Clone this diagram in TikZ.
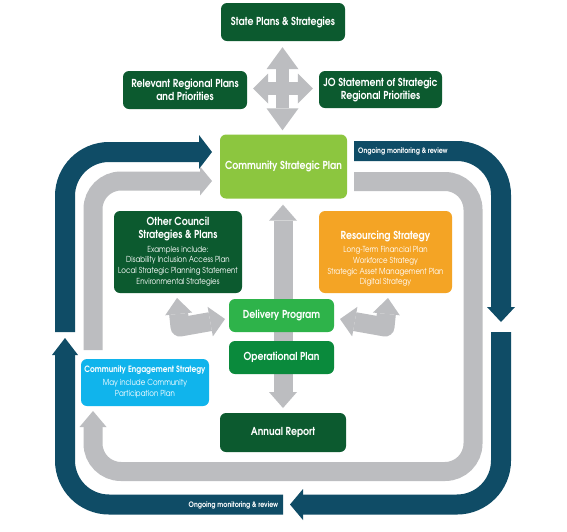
\documentclass[tikz,border=0pt]{standalone}
\usepackage{fontspec}
\setmainfont{TeX Gyre Adventor}[FakeStretch=0.85]
\usetikzlibrary{arrows.meta}
\definecolor{navy}{HTML}{0F4C66}
\definecolor{greyarr}{HTML}{BCBDC0}
\definecolor{dkgreen}{HTML}{0C5A2F}
\definecolor{ltgreen}{HTML}{8CC63F}
\definecolor{dpgreen}{HTML}{2EB34A}
\definecolor{opgreen}{HTML}{0A8A3C}
\definecolor{orangebox}{HTML}{F4A425}
\definecolor{ltblue}{HTML}{10B4EC}
\tikzset{
  box/.style={rounded corners=6pt, text=white, align=center, inner sep=0pt,
    font=\bfseries\fontsize{11}{13}\selectfont},
  titletxt/.style={text=white, align=center, inner sep=0pt,
    font=\bfseries\fontsize{11}{12.2}\selectfont},
  bodytxt/.style={text=white, align=center, inner sep=0pt,
    font=\fontsize{8.3}{10.7}\selectfont},
  loopblue/.style={draw=navy, line width=20pt, rounded corners=44pt},
  loopgrey/.style={draw=greyarr, line width=19pt, rounded corners=28pt},
  smallgrey/.style={draw=greyarr, line width=19pt, line join=round},
  montxt/.style={text=white, inner sep=0pt, font=\bfseries\fontsize{7.5}{8}\selectfont},
}
\begin{document}
\begin{tikzpicture}[x=1pt,y=-1pt]
\useasboundingbox (0,0) rectangle (567,531);
\fill[white] (0,0) rectangle (567,531);

% ---------- outer blue loop ----------
\coordinate (b1s) at (65,332);
\coordinate (b1c) at (65,152);
\coordinate (b1e) at (212,152);
\draw[loopblue, -{Triangle[width=34pt,length=13pt,line width=0pt]}] (b1s) -- (b1c) -- (b1e);
\coordinate (b2s) at (354,151);
\coordinate (b2c) at (501,151);
\coordinate (b2e) at (501,322);
\draw[loopblue, -{Triangle[width=28pt,length=15pt,line width=0pt]}] (b2s) -- (b2c) -- (b2e);
\coordinate (b3s) at (501,332);
\coordinate (b3c) at (501,504.5);
\coordinate (b3e) at (290,504.5);
\draw[loopblue, -{Triangle[width=31pt,length=13pt,line width=0pt]}] (b3s) -- (b3c) -- (b3e);
\coordinate (b4s) at (283,504.5);
\coordinate (b4c) at (65,504.5);
\coordinate (b4e) at (65,338);
\draw[loopblue, -{Triangle[width=26pt,length=17pt,line width=0pt]}] (b4s) -- (b4c) -- (b4e);

% ---------- inner grey loop ----------
\coordinate (g1s) at (93,350);
\coordinate (g1c) at (93,181);
\coordinate (g1e) at (212,181);
\draw[loopgrey, -{Triangle[width=29pt,length=12pt,line width=0pt]}] (g1s) -- (g1c) -- (g1e);
\coordinate (g2s) at (354,181.5);
\coordinate (g2a) at (473,181.5);
\coordinate (g2b) at (473,471.5);
\coordinate (g2c) at (93,471.5);
\coordinate (g2e) at (93,411);
\draw[loopgrey, -{Triangle[width=27pt,length=16pt,line width=0pt]}] (g2s) -- (g2a) -- (g2b) -- (g2c) -- (g2e);

% ---------- boxes ----------
\node[box, fill=dkgreen, minimum width=124pt, minimum height=38pt] (state) at (283,22) {State Plans \& Strategies};
\node[box, fill=dkgreen, minimum width=124pt, minimum height=38pt] (rel) at (185,90) {Relevant Regional Plans\\and Priorities};
\node[box, fill=dkgreen, minimum width=123pt, minimum height=37pt] (jo) at (380.5,89.5) {JO Statement of Strategic\\Regional Priorities};
\node[box, fill=ltgreen, minimum width=127pt, minimum height=64pt] (csp) at (283.5,166.5) {Community Strategic Plan};

% central vertical grey arrow (behind Delivery Program and Operational Plan)
\draw[draw=greyarr, line width=19pt,
  {Triangle[width=28pt,length=16pt,line width=0pt]}-{Triangle[width=28pt,length=16pt,line width=0pt]},
  shorten <=6pt, shorten >=5pt] (csp.south -| 283,0) -- (283,413);

\node[box, fill=dkgreen, minimum width=128pt, minimum height=82pt] (other) at (178,252) {};
\node[titletxt] (othert) at (178,229) {Other Council\\Strategies \& Plans};
\node[bodytxt] (otherb) at (178,266) {Examples include:\\Disability Inclusion Access Plan\\Local Strategic Planning Statement\\Environmental Strategies};

\node[box, fill=orangebox, minimum width=133pt, minimum height=82pt] (res) at (385.5,252) {};
\node[titletxt] (rest) at (385.5,236) {Resourcing Strategy};
\node[bodytxt] (resb) at (385.5,266.5) {Long-Term Financial Plan\\Workforce Strategy\\Strategic Asset Management Plan\\Digital Strategy};

\node[box, fill=dpgreen, minimum width=105pt, minimum height=33pt] (dp) at (281.5,315.5) {Delivery Program};
\node[box, fill=opgreen, minimum width=105pt, minimum height=33pt] (op) at (281.5,357.5) {Operational Plan};
\node[box, fill=dkgreen, minimum width=126pt, minimum height=39pt] (ar) at (283,432.5) {Annual Report};

\node[box, fill=ltblue, minimum width=128pt, minimum height=47pt] (ces) at (145,382.5) {};
\node[titletxt, font=\bfseries\fontsize{8.7}{9}\selectfont] (cest) at (145,370) {Community Engagement Strategy};
\node[bodytxt] (cesb) at (145,388.5) {May include Community\\Participation Plan};

% ---------- four-way arrow ----------
\coordinate (fwc) at (282.5,88.5);
\draw[draw=greyarr, line width=13pt,
  {Triangle[width=32pt,length=22pt,line width=0pt]}-{Triangle[width=32pt,length=22pt,line width=0pt]},
  shorten <=6pt, shorten >=4pt] (state.south -| fwc) -- (csp.north -| fwc);
\draw[draw=greyarr, line width=13pt,
  {Triangle[width=30pt,length=15pt,line width=0pt]}-{Triangle[width=30pt,length=15pt,line width=0pt]},
  shorten <=6pt, shorten >=6pt] (rel.east |- fwc) -- (jo.west |- fwc);

% ---------- elbow arrows ----------
\coordinate (el1) at (177,298);
\coordinate (el1c) at (180,327);
\coordinate (el1e) at (225,319);
\draw[smallgrey,
  {Triangle[width=27pt,length=16pt,line width=0pt]}-{Triangle[width=30pt,length=15pt,line width=0pt]}]
  (el1) -- (el1c) -- (el1e);
\coordinate (er1) at (388,298);
\coordinate (er1c) at (385,327);
\coordinate (er1e) at (340,319);
\draw[smallgrey,
  {Triangle[width=27pt,length=16pt,line width=0pt]}-{Triangle[width=30pt,length=15pt,line width=0pt]}]
  (er1) -- (er1c) -- (er1e);

% ---------- monitoring labels ----------
\node[montxt, anchor=west] (mon1) at (358,151) {Ongoing monitoring \& review};
\node[montxt, anchor=east] (mon2) at (278.5,505) {Ongoing monitoring \& review};
\end{tikzpicture}
\end{document}
